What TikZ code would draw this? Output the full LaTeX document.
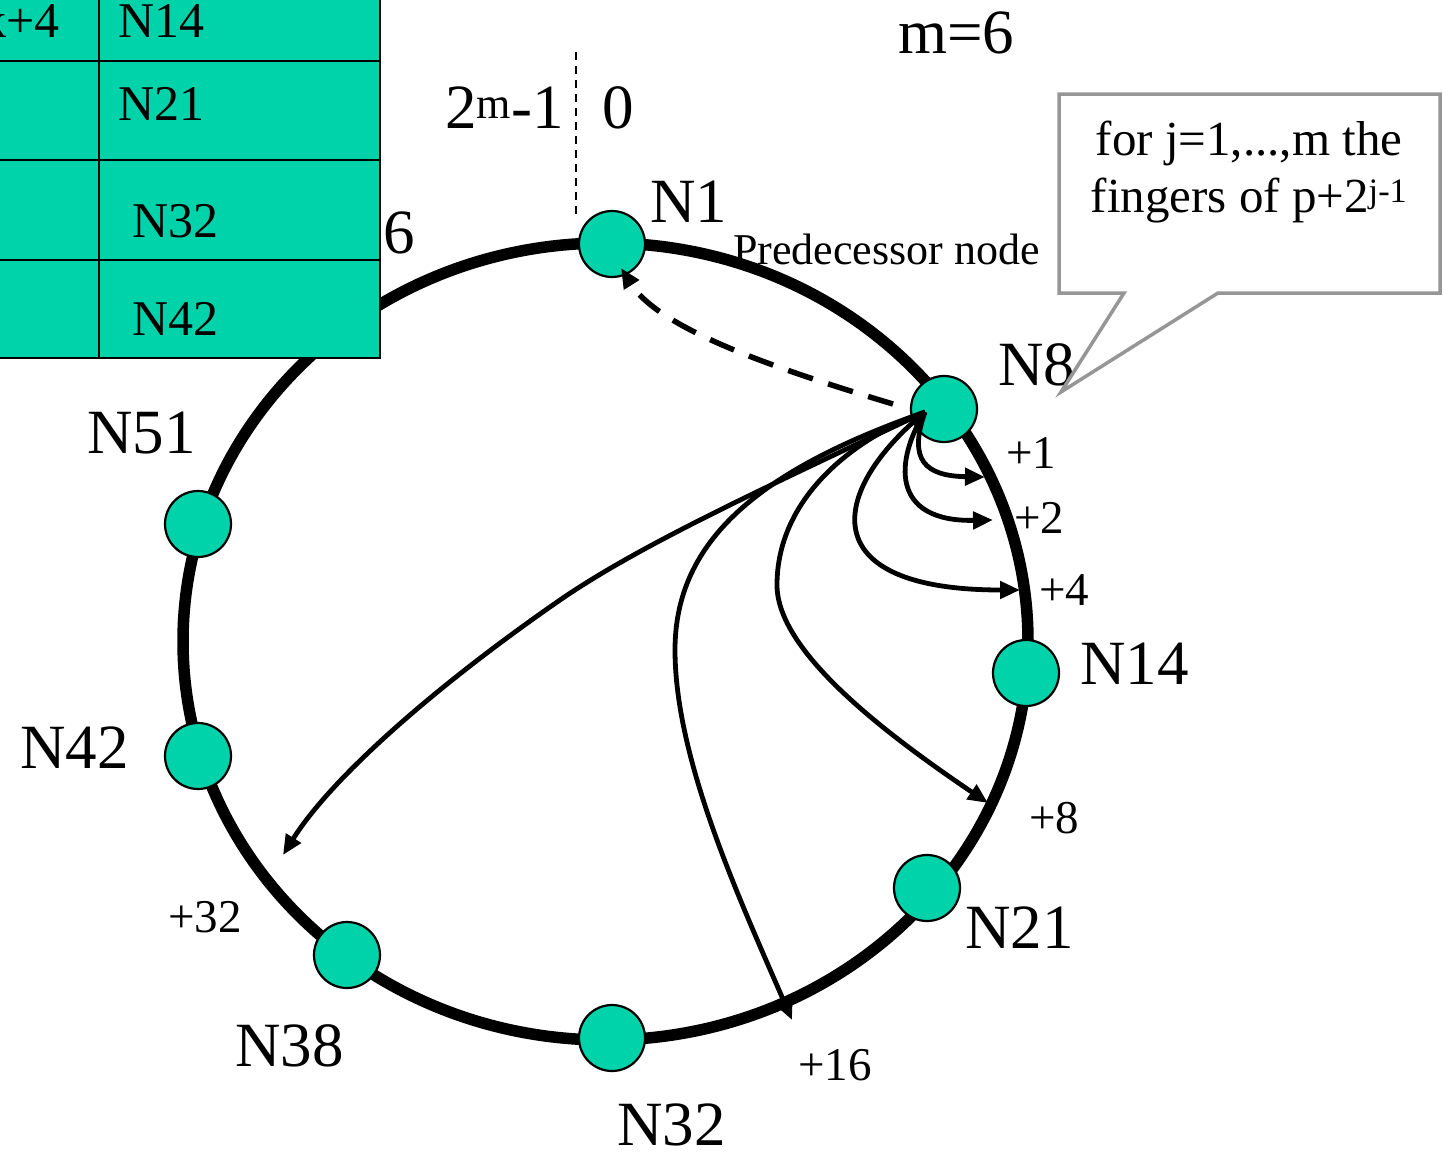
\documentclass[tikz,border=0pt]{standalone}
\usepackage{fontspec}
\setmainfont{Liberation Serif}
\usetikzlibrary{arrows.meta}
\definecolor{peerfill}{RGB}{0,210,170}
\definecolor{callgray}{RGB}{150,150,150}
\newcommand\fsz[1]{\fontsize{#1}{#1}\selectfont}
\begin{document}
\begin{tikzpicture}[x=1pt,y=-1pt,
  peer/.style={circle,draw,line width=2.2pt,fill=peerfill,minimum size=66pt,inner sep=0pt},
  big/.style={anchor=base west,inner sep=0pt,font=\fsz{63}},
  tab/.style={anchor=base west,inner sep=0pt,font=\fsz{50}},
  fing/.style={anchor=base west,inner sep=0pt,font=\fsz{47}},
  notetext/.style={anchor=base,inner sep=0pt,font=\fsz{49}},
  finger/.style={line width=4.8pt,-{Triangle[length=20pt,width=17pt]}},
]
\useasboundingbox (0,0) rectangle (1443,1156);

% ring
\draw[line width=11.5pt] (605.5,641.5) ellipse [x radius=422.5, y radius=398.5];

% finger table (cut by the page edge)
\begin{scope}
\clip (0,0) rectangle (1443,1156);
\fill[peerfill] (-5,-5) rectangle (380,358);
\draw[line width=2.4pt] (-5,358) -- (380,358) -- (380,-5);
\draw[line width=2.4pt] (99,-5) -- (99,358);
\foreach \yy in {61,160,260} \draw[line width=2.4pt] (-5,\yy) -- (380,\yy);
\node[tab,anchor=base east] (k4) at (60,38) {k+4};
\node[tab] (t14) at (118,38) {N14};
\node[tab] (t21) at (118,121) {N21};
\node[tab] (t32) at (132,237) {N32};
\node[tab] (t42) at (132,335) {N42};
\end{scope}

% peers
\node[peer] (n1) at (612,244) {};
\node[peer] (n8) at (944,409) {};
\node[peer] (n14) at (1026,673) {};
\node[peer] (n21) at (927,888) {};
\node[peer] (n32) at (612,1038) {};
\node[peer] (n38) at (347,955) {};
\node[peer] (n42) at (198,756) {};
\node[peer] (n51) at (198,524) {};

% labels
\node[big] (l1) at (650,222) {N1};
\node[big] (l8) at (998,385) {N8};
\node[big] (l14) at (1080,684) {N14};
\node[big] (l21) at (965,948) {N21};
\node[big] (l32) at (617,1145) {N32};
\node[big] (l38) at (235,1066) {N38};
\node[big] (l42) at (20,768) {N42};
\node[big] (l51) at (87,453) {N51};
\node[big] (m6) at (898,54) {m=6};
\node[big] (topl) at (445,128) {2\textsuperscript{m}-1};
\node[big] (zero) at (602,128) {0};
\node[big] (six) at (383,253) {6};
\node[anchor=base west,inner sep=0pt,font=\fsz{44}] (pred) at (733,264) {Predecessor node};

\node[fing] (f1) at (1006,468) {+1};
\node[fing] (f2) at (1014,533) {+2};
\node[fing] (f4) at (1039,605) {+4};
\node[fing] (f8) at (1029,833) {+8};
\node[fing] (f16) at (798,1080) {+16};
\node[fing] (f32) at (168,932) {+32};

% zero marker
\coordinate (za) at (576,52);
\coordinate (zb) at (576,215);
\draw[line width=2pt,dash pattern=on 8pt off 6pt] (za) -- (zb);

% finger arrows
\coordinate (o8) at (925,412);
\coordinate (t1) at (985,477);
\coordinate (t2) at (993,520);
\coordinate (t4) at (1020,590);
\coordinate (p8) at (777,585);
\coordinate (t8) at (988,803);
\coordinate (p16) at (675,650);
\coordinate (t16) at (792,1020);
\coordinate (p32) at (560,600);
\coordinate (t32) at (283,855);
\draw[finger] (o8) .. controls (908,460) and (925,476) .. (t1);
\draw[finger] (o8) .. controls (895,460) and (890,522) .. (t2);
\draw[finger] (o8) .. controls (830,490) and (810,590) .. (t4);
\draw[finger] (o8) .. controls (850,440) and (777,500) .. (p8) .. controls (777,650) and (880,730) .. (t8);
\draw[finger] (o8) .. controls (760,470) and (675,540) .. (p16) .. controls (675,760) and (740,900) .. (t16);
\draw[finger] (o8) .. controls (760,490) and (640,545) .. (p32) .. controls (430,690) and (330,780) .. (t32);

% predecessor pointer
\coordinate (d8) at (893,404);
\coordinate (dn1) at (621,268);
\draw[line width=5.5pt,dash pattern=on 26pt off 16pt,-{Triangle[length=20pt,width=17pt]}] (d8) .. controls (780,370) and (660,330) .. (dn1);

% callout
\draw[callgray,line width=3.5pt,fill=white] (1059,94) -- (1440,94) -- (1440,293) -- (1218,293) -- (1061,392) -- (1124,293) -- (1059,293) -- cycle;
\node[notetext] (note1) at (1249,155) {for j=1,...,m the};
\node[notetext] (note2) at (1249,212) {fingers of p+2\textsuperscript{j-1}};
\end{tikzpicture}
\end{document}
